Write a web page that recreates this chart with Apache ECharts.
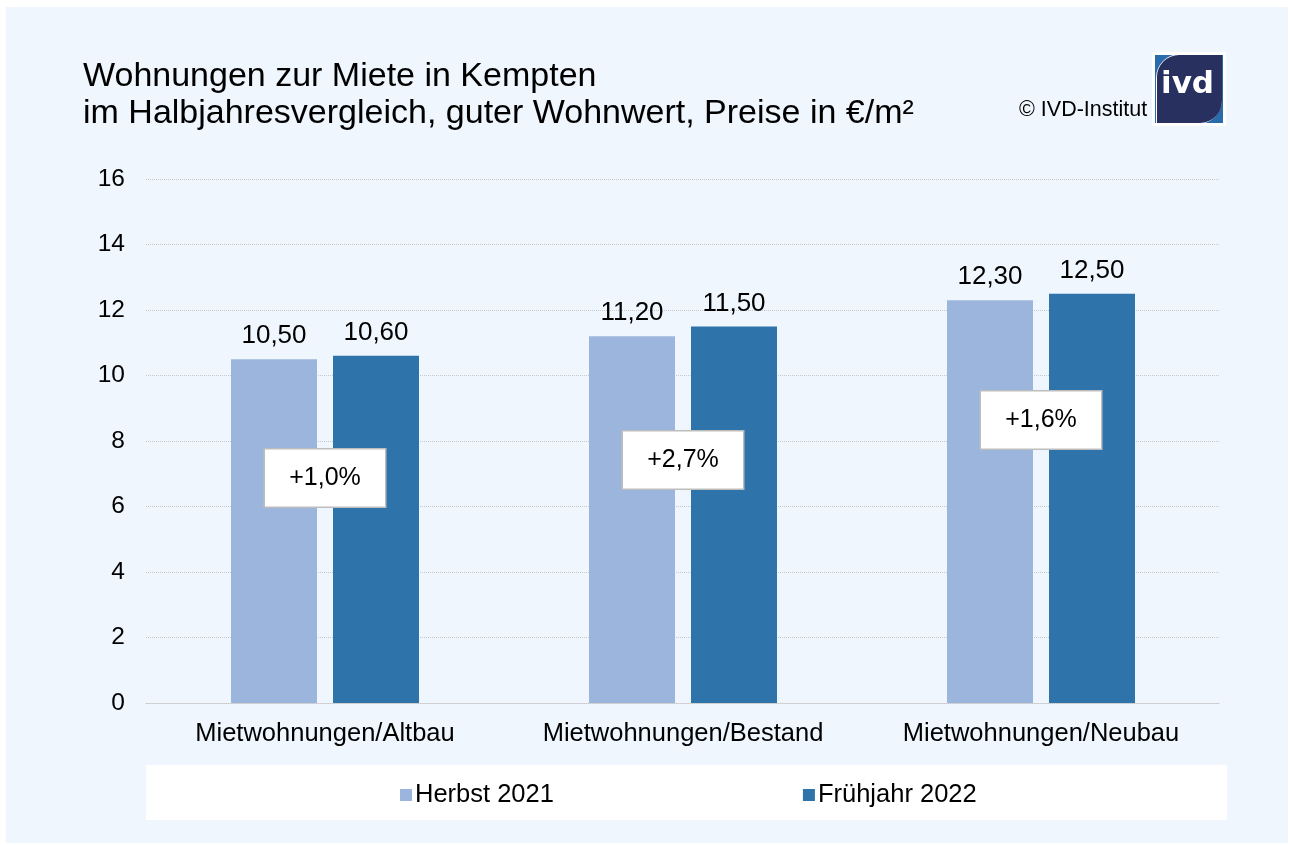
<!DOCTYPE html>
<html>
<head>
<meta charset="utf-8">
<script src="https://cdn.jsdelivr.net/npm/echarts@6/dist/echarts.min.js"></script>
<style>
html,body{margin:0;padding:0;background:#fff;}
#bg{position:absolute;left:6px;top:7px;width:1282px;height:836px;background:#eff6fe;}
#Charts{position:absolute;left:0;top:0;width:1290px;height:845px;}
</style>
</head>
<body>
<div id="bg"></div>
<div id="Charts"></div>
<script>
// Kategorien und Werte
var categories = ['Mietwohnungen/Altbau', 'Mietwohnungen/Bestand', 'Mietwohnungen/Neubau'];
var herbst2021 = [10.5, 11.2, 12.3];
var fruehjahr2022 = [10.6, 11.5, 12.5];
var changeLabels = ['+1,0%', '+2,7%', '+1,6%'];
var changeLabelPos = [6.87, 7.42, 8.64]; // Hoehe der Kaestchen (Achsenwert)
var yTicks = [0, 2, 4, 6, 8, 10, 12, 14, 16];

var font = 'Liberation Sans, Arial, sans-serif';

function fmt(v){
	return v.toFixed(2).replace('.', ',');
}

var changeData = [];
for (var i = 0; i < categories.length; i++) {
	changeData.push({value: [categories[i], changeLabelPos[i]], label: {formatter: changeLabels[i]}});
}

var option = {
	backgroundColor: 'transparent',
	animation: false,
	title: {
		text: 'Wohnungen zur Miete in Kempten\nim Halbjahresvergleich, guter Wohnwert, Preise in €/m²',
		left: 78,
		top: 53,
		textStyle: {fontFamily: font, fontSize: 34, fontWeight: 'normal', color: '#000', lineHeight: 37}
	},
	legend: {
		data: ['Herbst 2021', 'Frühjahr 2022'],
		left: 395,
		top: 777,
		itemWidth: 12,
		itemHeight: 12,
		itemGap: 249,
		icon: 'rect',
		textStyle: {fontFamily: font, fontSize: 25.5, color: '#000', padding: [0, 0, 0, -2]}
	},
	grid: {left: 146, right: 70, top: 179, bottom: 142},
	xAxis: {
		type: 'category',
		data: categories,
		axisLine: {show: true, lineStyle: {color: '#c8c8c8', type: 'dotted'}},
		axisTick: {show: false},
		axisLabel: {fontFamily: font, fontSize: 25.5, color: '#000', margin: 18, interval: 0, hideOverlap: false}
	},
	yAxis: {
		type: 'value',
		min: yTicks[0],
		max: yTicks[yTicks.length - 1],
		interval: 2,
		axisLine: {show: false},
		axisTick: {show: false},
		axisLabel: {fontFamily: font, fontSize: 24.5, color: '#000', margin: 21},
		splitLine: {lineStyle: {color: '#c8c8c8', type: 'dotted'}}
	},
	graphic: [
		{type: 'rect', z: -1, shape: {x: 146, y: 765, width: 1081, height: 55}, style: {fill: '#fff'}},
		{type: 'text', left: 1019, top: 99, style: {text: '© IVD-Institut', fontFamily: font, fontSize: 21.5, fill: '#000'}},
		{type: 'rect', shape: {x: 1152, y: 52, width: 74, height: 74}, style: {fill: '#fff'}},
		{type: 'rect', shape: {x: 1155, y: 55, width: 68, height: 68}, style: {fill: '#2a6bab'}},
		{type: 'rect', shape: {x: 1156, y: 54, width: 66, height: 70, r: [24, 0, 24, 0]}, style: {fill: '#fff'}},
		{type: 'rect', shape: {x: 1157, y: 55, width: 65, height: 68, r: [22, 0, 22, 0]}, style: {fill: '#283060'}},
		{type: 'text', left: 1161, top: 69, style: {text: 'ivd', fontFamily: 'DejaVu Sans, sans-serif', fontSize: 31, fontWeight: 'bold', fill: '#fff'}}
	],
	series: [
		{
			name: 'Herbst 2021',
			type: 'bar',
			data: herbst2021,
			barWidth: 86,
			barGap: '18.6%',
			itemStyle: {color: '#9cb5dc'},
			label: {show: true, position: 'top', distance: 10, fontFamily: font, fontSize: 26, color: '#000',
				formatter: function(p){ return fmt(p.value); }}
		},
		{
			name: 'Frühjahr 2022',
			type: 'bar',
			data: fruehjahr2022,
			barWidth: 86,
			itemStyle: {color: '#2e73aa'},
			label: {show: true, position: 'top', distance: 10, fontFamily: font, fontSize: 26, color: '#000',
				formatter: function(p){ return fmt(p.value); }}
		},
		{
			name: 'Veraenderung',
			type: 'scatter',
			data: changeData,
			symbolSize: 1,
			z: 5,
			itemStyle: {color: 'rgba(0,0,0,0)', opacity: 1},
			label: {
				show: true, position: 'inside', fontFamily: font, fontSize: 25, color: '#000',
				backgroundColor: '#fff', borderColor: '#bdbdbd', borderWidth: 1.5,
				padding: [16, 24, 16, 24], width: 72, align: 'center'
			}
		}
	]
};

var myChart = echarts.init(document.getElementById('Charts'));
myChart.setOption(option);
</script>
</body>
</html>
